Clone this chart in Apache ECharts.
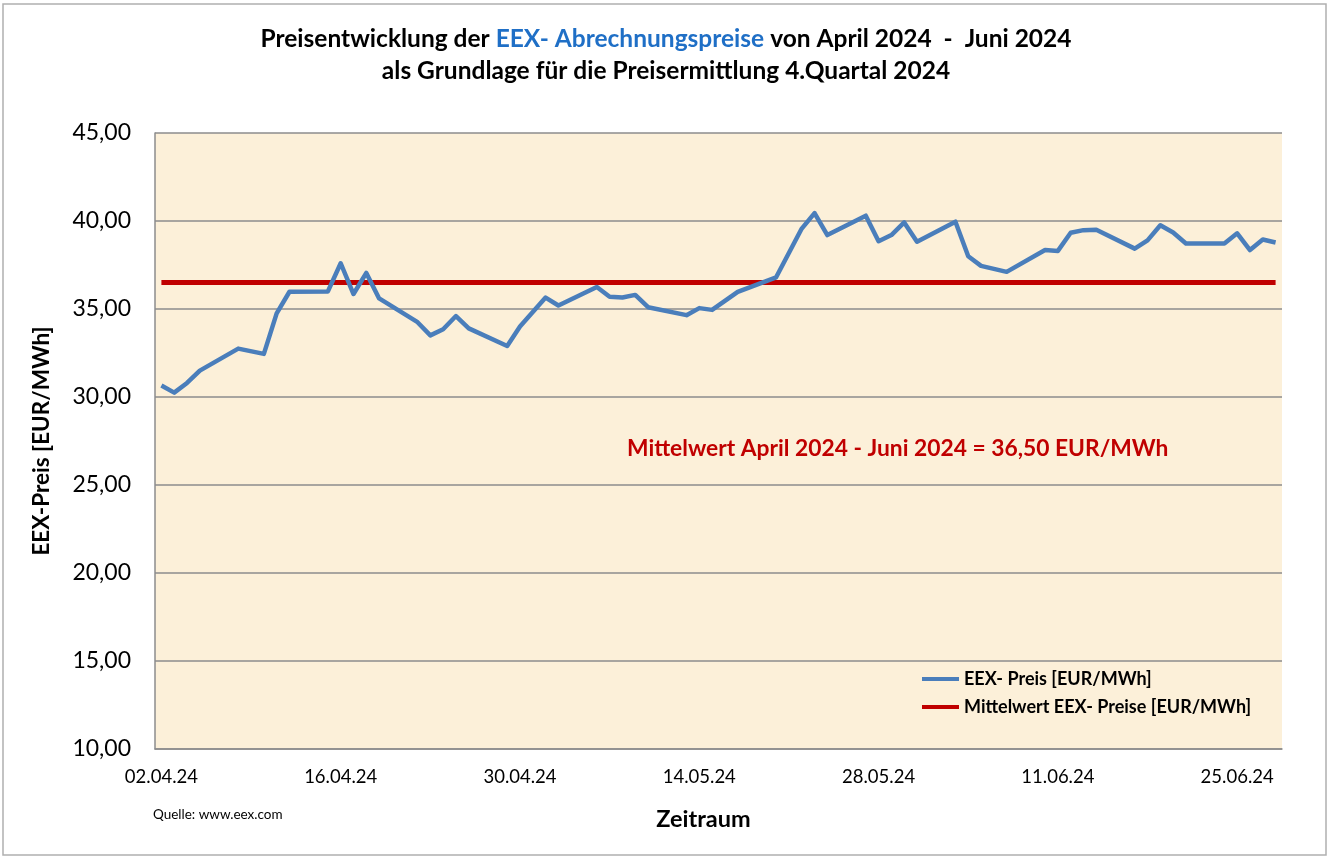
<!DOCTYPE html>
<html>
<head>
<meta charset="utf-8">
<script src="https://cdn.jsdelivr.net/npm/echarts@6/dist/echarts.min.js"></script>
<style>
  html, body { margin: 0; padding: 0; background: #fff; }
</style>
</head>
<body>
<div id="main" style="width: 1332px;height:860px;"></div>
<script type="text/javascript">
    // Kalendertage der x-Achse (Excel-Datumsachse): 02.04.24 bis 28.06.24
    var startDay = [2024, 3, 2];
    var dayCount = 88;

    // Handelstage und EEX-Preise [EUR/MWh]
    var priceDates = [
        '02.04.24', '03.04.24', '04.04.24', '05.04.24', '08.04.24', '10.04.24', '11.04.24', '12.04.24',
        '15.04.24', '16.04.24', '17.04.24', '18.04.24', '19.04.24', '22.04.24', '23.04.24', '24.04.24',
        '25.04.24', '26.04.24', '29.04.24', '30.04.24', '02.05.24', '03.05.24', '06.05.24', '07.05.24',
        '08.05.24', '09.05.24', '10.05.24', '13.05.24', '14.05.24', '15.05.24', '17.05.24', '20.05.24',
        '22.05.24', '23.05.24', '24.05.24', '27.05.24', '28.05.24', '29.05.24', '30.05.24', '31.05.24',
        '03.06.24', '04.06.24', '05.06.24', '07.06.24', '10.06.24', '11.06.24', '12.06.24', '13.06.24',
        '14.06.24', '17.06.24', '18.06.24', '19.06.24', '20.06.24', '21.06.24', '24.06.24', '25.06.24',
        '26.06.24', '27.06.24', '28.06.24'
    ];
    var priceValues = [
        30.65, 30.25, 30.80, 31.50, 32.75, 32.45, 34.75, 35.98,
        36.00, 37.60, 35.85, 37.05, 35.60, 34.25, 33.50, 33.85,
        34.60, 33.90, 32.90, 34.00, 35.65, 35.20, 36.25, 35.70,
        35.65, 35.80, 35.10, 34.65, 35.05, 34.95, 35.97, 36.80,
        39.57, 40.45, 39.20, 40.30, 38.85, 39.20, 39.92, 38.82,
        39.96, 38.00, 37.45, 37.11, 38.35, 38.30, 39.33, 39.48,
        39.50, 38.43, 38.90, 39.76, 39.35, 38.72, 38.72, 39.30,
        38.35, 38.95, 38.78
    ];
    var meanValue = 36.50;

    var yTicks = [10, 15, 20, 25, 30, 35, 40, 45];

    function pad(n) { return (n < 10 ? '0' : '') + n; }
    var calendarDays = [];
    for (var i = 0; i < dayCount; i++) {
        var d = new Date(Date.UTC(startDay[0], startDay[1], startDay[2] + i));
        calendarDays.push(pad(d.getUTCDate()) + '.' + pad(d.getUTCMonth() + 1) + '.' + String(d.getUTCFullYear()).slice(2));
    }

    var priceData = priceDates.map(function (d, k) { return [d, priceValues[k]]; });
    var meanData = priceDates.map(function (d) { return [d, meanValue]; });

    var FONT = 'Lato';
    var myChart = echarts.init(document.getElementById('main'));

    var option = {
        backgroundColor: '#ffffff',
        animation: false,
        title: {
            left: 'center',
            top: 18,
            text: '{b|Preisentwicklung der }{blue|EEX- Abrechnungspreise}{b| von April 2024  -  Juni 2024}\n{b|als Grundlage für die Preisermittlung 4.Quartal 2024}',
            textStyle: {
                rich: {
                    b: { fontFamily: FONT, fontWeight: 'bold', fontSize: 24.5, color: '#000', lineHeight: 32 },
                    blue: { fontFamily: FONT, fontWeight: 'bold', fontSize: 24.5, color: '#1F6FC6', lineHeight: 32 }
                }
            }
        },
        grid: {
            left: 155,
            right: 50,
            top: 133,
            bottom: 111,
            show: true,
            backgroundColor: '#FCF0D9',
            borderWidth: 0
        },
        legend: {
            orient: 'vertical',
            left: 917,
            top: 665,
            itemWidth: 37,
            itemHeight: 4,
            itemGap: 10,
            icon: 'rect',
            textStyle: { fontFamily: FONT, fontWeight: 'bold', fontSize: 18, color: '#000' },
            data: ['EEX- Preis [EUR/MWh]', 'Mittelwert EEX- Preise [EUR/MWh]']
        },
        xAxis: {
            type: 'category',
            data: calendarDays,
            boundaryGap: true,
            axisLine: { lineStyle: { color: '#8c8c8c', width: 1.5 } },
            axisTick: { show: false },
            axisLabel: {
                interval: 13,
                margin: 19,
                fontFamily: FONT,
                fontSize: 18.5,
                color: '#000'
            },
            splitLine: { show: false },
            name: 'Zeitraum',
            nameLocation: 'middle',
            nameGap: 58,
            nameTextStyle: { fontFamily: FONT, fontWeight: 'bold', fontSize: 23.5, color: '#000', padding: [0, 30, 0, 0] }
        },
        yAxis: {
            type: 'value',
            min: yTicks[0],
            max: yTicks[yTicks.length - 1],
            interval: 5,
            axisLine: { show: true, lineStyle: { color: '#8c8c8c', width: 1.5 } },
            axisTick: { show: false },
            axisLabel: {
                margin: 24,
                fontFamily: FONT,
                fontSize: 23,
                color: '#000',
                formatter: function (v) { return v.toFixed(2).replace('.', ','); }
            },
            splitLine: { show: true, lineStyle: { color: '#8c8c8c', width: 1.5 } },
            name: 'EEX-Preis [EUR/MWh]',
            nameLocation: 'middle',
            nameGap: 102,
            nameTextStyle: { fontFamily: FONT, fontWeight: 'bold', fontSize: 22.5, color: '#000' }
        },
        graphic: [
            {
                type: 'rect',
                shape: { x: 3, y: 4, width: 1323, height: 851 },
                style: { fill: 'none', stroke: '#b0b0b0', lineWidth: 1.5 },
                silent: true,
                z: 100
            },
            {
                type: 'text',
                left: 627,
                top: 437,
                style: {
                    text: 'Mittelwert April 2024 - Juni 2024 = 36,50 EUR/MWh',
                    fontFamily: FONT,
                    fontWeight: 'bold',
                    fontSize: 22.8,
                    fill: '#C00000'
                },
                z: 100
            },
            {
                type: 'text',
                left: 153,
                top: 808,
                style: {
                    text: 'Quelle: www.eex.com',
                    fontFamily: FONT,
                    fontSize: 13.5,
                    fill: '#000'
                },
                z: 100
            }
        ],
        series: [
            {
                name: 'Mittelwert EEX- Preise [EUR/MWh]',
                type: 'line',
                data: meanData,
                showSymbol: false,
                symbol: 'none',
                lineStyle: { color: '#C00000', width: 5 },
                itemStyle: { color: '#C00000' },
                z: 2
            },
            {
                name: 'EEX- Preis [EUR/MWh]',
                type: 'line',
                data: priceData,
                showSymbol: false,
                symbol: 'none',
                lineStyle: { color: '#4A7EBB', width: 4.5, join: 'round' },
                itemStyle: { color: '#4A7EBB' },
                z: 3
            }
        ]
    };

    myChart.setOption(option);
</script>
</body>
</html>
